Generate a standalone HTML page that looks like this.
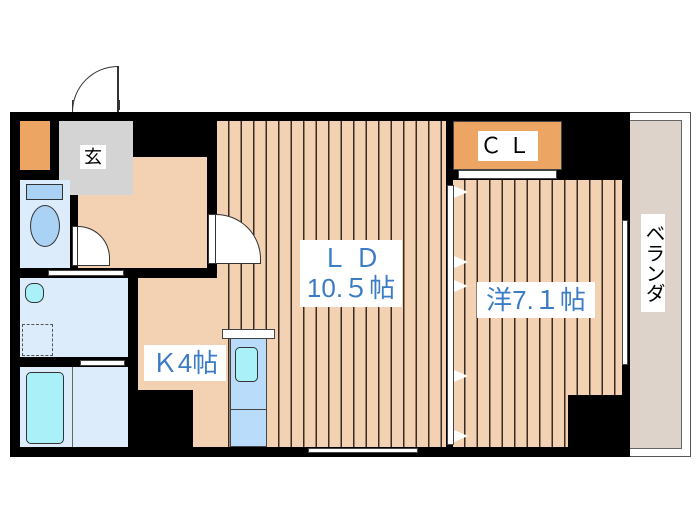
<!DOCTYPE html>
<html><head><meta charset="utf-8"><style>
body{margin:0;width:700px;height:525px;background:#fff;position:relative;overflow:hidden;font-family:"Liberation Sans","Noto Sans CJK JP",sans-serif}
div{position:absolute;box-sizing:border-box}
.st{background:repeating-linear-gradient(90deg,#f3d1b3 0,#f3d1b3 11px,#3a2a20 11px,#3a2a20 12.5px)}
.bl{color:#3b7cc4}
.tri{width:0;height:0;border-top:6px solid transparent;border-bottom:6px solid transparent;border-left:14px solid #fff}
</style></head><body>
<div style="left:626px;top:112px;width:65px;height:345px;border:1px solid #555;background:#fff"></div>
<div style="left:628px;top:120px;width:54px;height:329px;background:#ddd3cb;border:1px solid #666"></div>
<div style="left:10px;top:112px;width:620px;height:345px;background:#000"></div>
<div style="left:20px;top:121px;width:30px;height:49px;background:#eda564"></div>
<div style="left:59px;top:121px;width:74px;height:74px;background:#d4d4d4"></div>
<div style="left:133px;top:157px;width:74px;height:111px;background:#f3d1b3"></div>
<div style="left:78px;top:195px;width:60px;height:73px;background:#f3d1b3"></div>
<div style="left:20px;top:180px;width:50px;height:88px;background:#dcecfb"></div>
<div style="left:26px;top:184px;width:37px;height:16px;background:#a9d2f5;border:1px solid #333"></div>
<div style="left:30px;top:205px;width:30px;height:42px;background:#a9d2f5;border:1px solid #333;border-radius:50%"></div>
<div style="left:20px;top:278px;width:108px;height:79px;background:#dcecfb"></div>
<div style="left:25px;top:283px;width:19px;height:20px;background:#a9f0f8;border:1px solid #333;border-radius:8px"></div>
<div style="left:22px;top:324px;width:31px;height:32px;border:1px dashed #555"></div>
<div style="left:20px;top:367px;width:108px;height:80px;background:#dcecfb"></div>
<div style="left:26px;top:372px;width:38px;height:72px;background:#a9f0f8;border:1px solid #333;border-radius:5px"></div>
<div style="left:72px;top:367px;width:1px;height:80px;background:#666"></div>
<div style="left:138px;top:278px;width:84px;height:112px;background:#f3d1b3"></div>
<div style="left:193px;top:330px;width:37px;height:117px;background:#f3d1b3"></div>
<div class="st" style="left:217px;top:121px;width:229px;height:326px"></div>
<div style="left:222px;top:329px;width:53px;height:10px;background:#fff;border:1px solid #444"></div>
<div style="left:230px;top:338px;width:37px;height:109px;background:#b8dcfa;border:1px solid #444"></div>
<div style="left:235px;top:347px;width:23px;height:35px;background:#a9f0f8;border:1px solid #333;border-radius:5px"></div>
<div style="left:230px;top:409px;width:37px;height:1px;background:#444"></div>
<div class="st" style="left:453px;top:180px;width:169px;height:267px"></div>
<div style="left:568px;top:395px;width:62px;height:55px;background:#000"></div>
<div style="left:453px;top:121px;width:109px;height:49px;background:#eda564;border:1px solid #444"></div>
<div style="left:458px;top:170px;width:99px;height:9px;background:#fff;border:1px solid #444"></div>
<div style="left:447px;top:185px;width:7px;height:260px;background:#fff;border:1px solid #444"></div>
<div class="tri" style="left:454px;top:186px"></div>
<div class="tri" style="left:454px;top:256px"></div>
<div class="tri" style="left:454px;top:280px"></div>
<div class="tri" style="left:454px;top:370px"></div>
<div class="tri" style="left:454px;top:430px"></div>
<div style="left:622px;top:220px;width:6px;height:145px;background:#fff;border:1px solid #444"></div>
<!-- doors -->
<div style="left:72px;top:100px;width:48px;height:10px;background:#fff;border:1px solid #333"></div>
<div style="left:72px;top:66px;width:47px;height:46px;border-top:1px solid #333;border-left:1px solid #333;border-radius:46px 0 0 0;background:#fff"></div>
<div style="left:117px;top:66px;width:2px;height:46px;background:#333"></div>
<div style="left:208px;top:214px;width:8px;height:50px;background:#fff;border:1px solid #333"></div>
<div style="left:216px;top:214px;width:45px;height:50px;border:1px solid #333;border-left:none;border-radius:0 45px 0 0;background:#fff"></div>
<div style="left:72px;top:226px;width:6px;height:40px;background:#fff;border:1px solid #333"></div>
<div style="left:78px;top:226px;width:32px;height:40px;border:1px solid #333;border-left:none;border-radius:0 32px 0 0;background:#fff"></div>
<div style="left:48px;top:270px;width:76px;height:6px;background:#fff;border:1px solid #444"></div>
<div style="left:80px;top:360px;width:45px;height:6px;background:#fff;border:1px solid #444"></div>
<div style="left:308px;top:448px;width:110px;height:5px;background:#fff;border:1px solid #444"></div>
<!-- labels -->
<div style="left:80px;top:145px;width:26px;height:24px;background:#fff;font-size:18px;text-align:center;line-height:24px">玄</div>
<div style="left:478px;top:131px;width:60px;height:30px;background:#fff;font-size:22px;text-align:center;line-height:30px;letter-spacing:6px">ＣＬ</div>
<div class="bl" style="left:300px;top:240px;width:102px;height:67px;background:#fff;font-size:26px;text-align:center;line-height:30px;padding-top:3px">Ｌ Ｄ<br>10.５帖</div>
<div class="bl" style="left:144px;top:345px;width:82px;height:36px;background:#fff;font-size:26px;line-height:36px;text-align:center">Ｋ4帖</div>
<div class="bl" style="left:477px;top:282px;width:118px;height:36px;background:#fff;font-size:26px;line-height:36px;text-align:center">洋7.１帖</div>
<div style="left:641px;top:214px;width:24px;height:98px;background:#fff;font-size:20px;line-height:24px;text-align:center;writing-mode:vertical-rl">ベランダ</div>
</body></html>
